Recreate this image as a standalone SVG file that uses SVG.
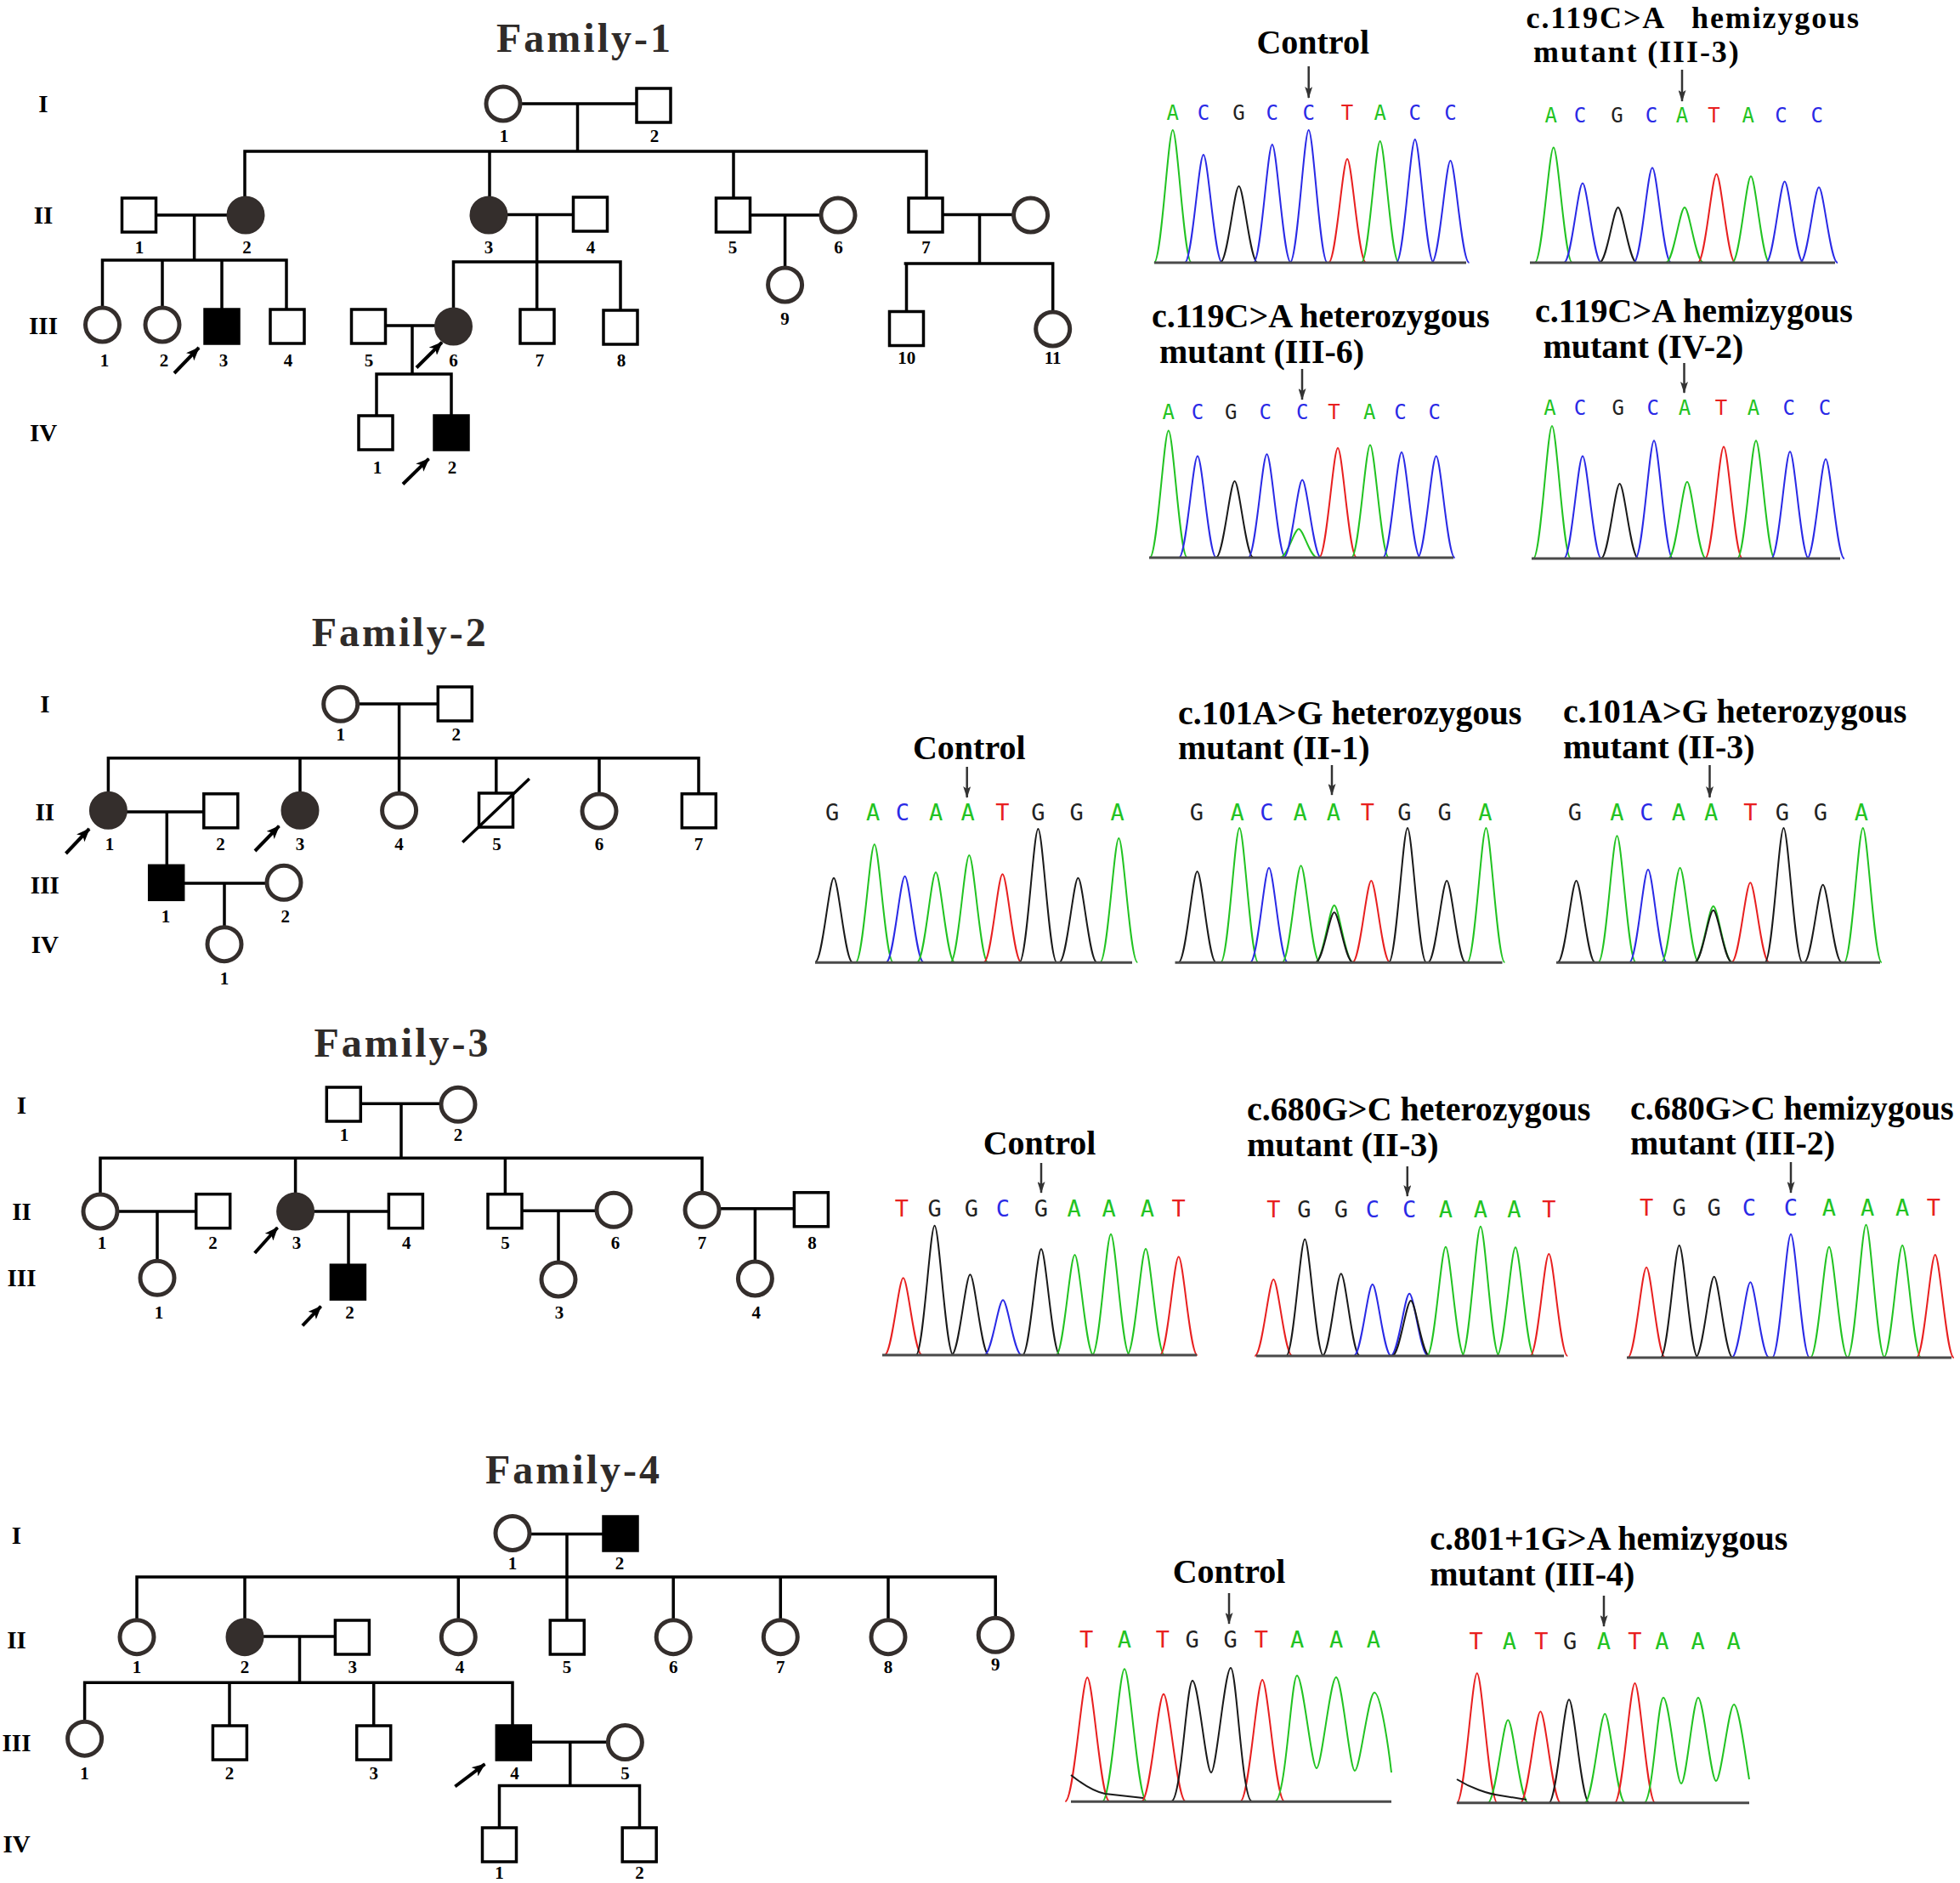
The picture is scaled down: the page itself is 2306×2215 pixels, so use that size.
<svg xmlns="http://www.w3.org/2000/svg" width="2306" height="2215" viewBox="0 0 2306 2215">
<defs>
<style>
.ln{stroke:#000;stroke-width:3.5;fill:none;stroke-linecap:square}
.sq{fill:#fff;stroke:#000;stroke-width:3.5}
.sf{fill:#000;stroke:#000;stroke-width:3.5}
.ci{fill:#fff;stroke:#342e2c;stroke-width:5}
.cf{fill:#342e2c;stroke:#342e2c;stroke-width:2}
text{font-family:"Liberation Serif","Times New Roman",serif;font-weight:bold}
.n{font-size:21px;text-anchor:middle;fill:#000}
.g{font-size:29px;text-anchor:middle;fill:#000}
.t{font-size:48px;text-anchor:middle;fill:#2f2b29;letter-spacing:3px}
.m{font-size:40px;fill:#000}
.ms{font-size:36px;fill:#000;letter-spacing:1.9px}
.mc{font-size:40px;fill:#000;text-anchor:middle}
.b{font-family:"DejaVu Sans Mono","Liberation Mono",monospace;font-weight:normal;font-size:24px;text-anchor:middle}
.b2{font-size:27px}
.A{fill:#22c322}.C{fill:#2a2ae6}.G{fill:#222}.T{fill:#e82020}
.pk{fill:none;stroke-width:2}
.pA{stroke:#22c322}.pC{stroke:#2a2ae6}.pG{stroke:#1a1a1a}.pT{stroke:#e82020}
.bl{stroke:#4a4a4a;stroke-width:3}
.ca{stroke:#333;stroke-width:2.5;marker-end:url(#ah)}
.pa{stroke:#000;stroke-width:4;marker-end:url(#ap)}
</style>
<marker id="ah" viewBox="0 0 14 9" refX="13" refY="4.5" markerWidth="14" markerHeight="9" markerUnits="userSpaceOnUse" orient="auto"><path d="M0 0L14 4.5L0 9L3 4.5z" fill="#333"/></marker>
<marker id="ap" viewBox="0 0 16 13" refX="15" refY="6.5" markerWidth="16" markerHeight="13" markerUnits="userSpaceOnUse" orient="auto"><path d="M0 0L16 6.5L0 13L4 6.5z" fill="#000"/></marker>
<path id="pk" d="M-1 0C-.6 0-.25-1 0-1S.6 0 1 0" fill="none" vector-effect="non-scaling-stroke"/>
</defs>
<rect width="2306" height="2215" fill="#fff"/>

<!-- ================= FAMILY 1 ================= -->
<text class="t" x="688" y="61">Family-1</text>
<text class="g" x="51" y="132">I</text>
<text class="g" x="51" y="263">II</text>
<text class="g" x="51" y="393">III</text>
<text class="g" x="51" y="519">IV</text>
<g id="f1-connectors" class="ln">
<path d="M592 122H769M679.5 122V178M288 178H1090M288 178V253M576 178V253M863 178V253M1090 178V253"/>
<path d="M163.5 253H289M228.6 253V306M120.5 306H337M120.5 306V382M191 306V382M261 306V384M337 306V384"/>
<path d="M575 252.6H694.5M631.7 252.6V384M533.5 308H730M533.5 308V384M730 308V385"/>
<path d="M862.5 253H986M923.6 253V335"/>
<path d="M1089 252.6H1212.6M1152.5 252.6V310M1065.4 310H1238.7M1066.5 310V386.5M1238.7 310V387"/>
<path d="M433.5 383H533.5M485 383V440M443 440H531M443 440V509M531 440V509"/>
</g>
<g id="f1-I-1"><circle class="ci" cx="592" cy="122" r="20"/><text class="n" x="593" y="167">1</text></g>
<g id="f1-I-2"><rect class="sq" x="749" y="104" width="40" height="40"/><text class="n" x="770" y="167">2</text></g>
<g id="f1-II-1"><rect class="sq" x="143.5" y="233" width="40" height="40"/><text class="n" x="164" y="298">1</text></g>
<g id="f1-II-2"><circle class="cf" cx="289" cy="253" r="21.5"/><text class="n" x="290.6" y="298">2</text></g>
<g id="f1-II-3"><circle class="cf" cx="575" cy="253" r="21.5"/><text class="n" x="575" y="298">3</text></g>
<g id="f1-II-4"><rect class="sq" x="674.5" y="232" width="40" height="40"/><text class="n" x="695" y="298">4</text></g>
<g id="f1-II-5"><rect class="sq" x="842.5" y="233" width="40" height="40"/><text class="n" x="862" y="298">5</text></g>
<g id="f1-II-6"><circle class="ci" cx="986" cy="253" r="20"/><text class="n" x="986.6" y="298">6</text></g>
<g id="f1-II-7"><rect class="sq" x="1069" y="233" width="40" height="40"/><text class="n" x="1089.5" y="298">7</text></g>
<g id="f1-II-8"><circle class="ci" cx="1212.6" cy="253" r="20"/></g>
<g id="f1-III-1"><circle class="ci" cx="120.5" cy="382" r="20"/><text class="n" x="123" y="431">1</text></g>
<g id="f1-III-2"><circle class="ci" cx="191" cy="382" r="20"/><text class="n" x="193" y="431">2</text></g>
<g id="f1-III-3"><rect class="sf" x="241" y="364" width="40" height="40"/><text class="n" x="263" y="431">3</text><line class="pa" x1="205" y1="439" x2="234" y2="409"/></g>
<g id="f1-III-4"><rect class="sq" x="318" y="364" width="40" height="40"/><text class="n" x="339" y="431">4</text></g>
<g id="f1-III-5"><rect class="sq" x="413.5" y="364" width="40" height="40"/><text class="n" x="434" y="431">5</text></g>
<g id="f1-III-6"><circle class="cf" cx="533.5" cy="384" r="21.5"/><text class="n" x="533.5" y="431">6</text><line class="pa" x1="490" y1="432.5" x2="520" y2="402.6"/></g>
<g id="f1-III-7"><rect class="sq" x="612" y="364" width="40" height="40"/><text class="n" x="635" y="431">7</text></g>
<g id="f1-III-8"><rect class="sq" x="710" y="365" width="40" height="40"/><text class="n" x="731" y="431">8</text></g>
<g id="f1-III-9"><circle class="ci" cx="923.6" cy="335" r="20"/><text class="n" x="923.6" y="382">9</text></g>
<g id="f1-III-10"><rect class="sq" x="1046.5" y="366.5" width="40" height="40"/><text class="n" x="1066.7" y="428">10</text></g>
<g id="f1-III-11"><circle class="ci" cx="1238.7" cy="387" r="20"/><text class="n" x="1238.7" y="428">11</text></g>
<g id="f1-IV-1"><rect class="sq" x="422" y="489" width="40" height="40"/><text class="n" x="444" y="557">1</text></g>
<g id="f1-IV-2"><rect class="sf" x="511" y="489" width="40" height="40"/><text class="n" x="532" y="557">2</text><line class="pa" x1="474" y1="569.5" x2="504.5" y2="539.6"/></g>

<!-- Family 1 chromatograms -->
<g id="f1-seq-control">
<text class="mc" x="1544.7" y="63">Control</text>
<line class="ca" x1="1539.7" y1="78" x2="1539.7" y2="115"/>
<text class="b" y="141"><tspan class="A" x="1379.8">A</tspan><tspan class="C" x="1415.9">C</tspan><tspan class="G" x="1457.6">G</tspan><tspan class="C" x="1496.8">C</tspan><tspan class="C" x="1539.7">C</tspan><tspan class="T" x="1585.1">T</tspan><tspan class="A" x="1623.7">A</tspan><tspan class="C" x="1664.8">C</tspan><tspan class="C" x="1706.5">C</tspan></text>
<g class="pk">
<use href="#pk" class="pA" transform="translate(1379.8 309) scale(22 156)"/>
<use href="#pk" class="pC" transform="translate(1415.9 309) scale(22 127)"/>
<use href="#pk" class="pG" transform="translate(1457.6 309) scale(22 90)"/>
<use href="#pk" class="pC" transform="translate(1496.8 309) scale(22 139)"/>
<use href="#pk" class="pC" transform="translate(1539.7 309) scale(22 156)"/>
<use href="#pk" class="pT" transform="translate(1585.1 309) scale(22 122)"/>
<use href="#pk" class="pA" transform="translate(1623.7 309) scale(22 143)"/>
<use href="#pk" class="pC" transform="translate(1664.8 309) scale(22 145)"/>
<use href="#pk" class="pC" transform="translate(1706.5 309) scale(22 120)"/>
</g>
<line class="bl" x1="1358" y1="309" x2="1725" y2="309"/>
</g>
<g id="f1-seq-III-3">
<text class="ms" x="1795.5" y="33">c.119C&gt;A<tspan x="1990">hemizygous</tspan></text>
<text class="ms" x="1804" y="73">mutant (III-3)</text>
<line class="ca" x1="1979" y1="82" x2="1979" y2="119"/>
<text class="b" y="143.5"><tspan class="A" x="1824.7">A</tspan><tspan class="C" x="1859">C</tspan><tspan class="G" x="1902.5">G</tspan><tspan class="C" x="1943">C</tspan><tspan class="A" x="1979">A</tspan><tspan class="T" x="2016.4">T</tspan><tspan class="A" x="2056.8">A</tspan><tspan class="C" x="2095.4">C</tspan><tspan class="C" x="2137.7">C</tspan></text>
<g class="pk">
<use href="#pk" class="pA" transform="translate(1827.8 309) scale(22 135.5)"/>
<use href="#pk" class="pC" transform="translate(1862 309) scale(22 93.5)"/>
<use href="#pk" class="pG" transform="translate(1903.7 309) scale(22 65)"/>
<use href="#pk" class="pC" transform="translate(1944 309) scale(22 111.7)"/>
<use href="#pk" class="pA" transform="translate(1982 309) scale(22 65)"/>
<use href="#pk" class="pT" transform="translate(2019.5 309) scale(22 104.3)"/>
<use href="#pk" class="pA" transform="translate(2060 309) scale(22 101.7)"/>
<use href="#pk" class="pC" transform="translate(2099.7 309) scale(22 95.6)"/>
<use href="#pk" class="pC" transform="translate(2140 309) scale(22 88.7)"/>
</g>
<line class="bl" x1="1800" y1="309" x2="2159" y2="309"/>
</g>
<g id="f1-seq-III-6">
<text class="m" x="1355" y="385">c.119C&gt;A heterozygous</text>
<text class="m" x="1364" y="427">mutant (III-6)</text>
<line class="ca" x1="1532" y1="434" x2="1532" y2="470"/>
<text class="b" y="492.5"><tspan class="A" x="1374.8">A</tspan><tspan class="C" x="1409">C</tspan><tspan class="G" x="1448.2">G</tspan><tspan class="C" x="1488.7">C</tspan><tspan class="C" x="1532.2">C</tspan><tspan class="T" x="1569.6">T</tspan><tspan class="A" x="1611.3">A</tspan><tspan class="C" x="1647.4">C</tspan><tspan class="C" x="1687.8">C</tspan></text>
<g class="pk">
<use href="#pk" class="pA" transform="translate(1374.8 656) scale(22 149.5)"/>
<use href="#pk" class="pC" transform="translate(1409 656) scale(22 119.6)"/>
<use href="#pk" class="pG" transform="translate(1452.6 656) scale(22 90)"/>
<use href="#pk" class="pC" transform="translate(1490.5 656) scale(22 121.7)"/>
<use href="#pk" class="pA" transform="translate(1528 656) scale(22 33.7)"/>
<use href="#pk" class="pC" transform="translate(1532.2 656) scale(22 91.4)"/>
<use href="#pk" class="pT" transform="translate(1574 656) scale(22 129)"/>
<use href="#pk" class="pA" transform="translate(1612 656) scale(22 132.6)"/>
<use href="#pk" class="pC" transform="translate(1649 656) scale(22 124)"/>
<use href="#pk" class="pC" transform="translate(1689.7 656) scale(22 119.6)"/>
</g>
<line class="bl" x1="1352" y1="656" x2="1710" y2="656"/>
</g>
<g id="f1-seq-IV-2">
<text class="m" x="1806" y="379.4">c.119C&gt;A hemizygous</text>
<text class="m" x="1815.4" y="420.6">mutant (IV-2)</text>
<line class="ca" x1="1981.5" y1="427" x2="1981.5" y2="462"/>
<text class="b" y="488"><tspan class="A" x="1823.5">A</tspan><tspan class="C" x="1859">C</tspan><tspan class="G" x="1903.7">G</tspan><tspan class="C" x="1944.8">C</tspan><tspan class="A" x="1982">A</tspan><tspan class="T" x="2025">T</tspan><tspan class="A" x="2063">A</tspan><tspan class="C" x="2104.7">C</tspan><tspan class="C" x="2147">C</tspan></text>
<g class="pk">
<use href="#pk" class="pA" transform="translate(1826 657) scale(22 156)"/>
<use href="#pk" class="pC" transform="translate(1862 657) scale(22 120.6)"/>
<use href="#pk" class="pG" transform="translate(1905.6 657) scale(22 88)"/>
<use href="#pk" class="pC" transform="translate(1946 657) scale(22 138.8)"/>
<use href="#pk" class="pA" transform="translate(1985 657) scale(22 90.2)"/>
<use href="#pk" class="pT" transform="translate(2028 657) scale(22 131.4)"/>
<use href="#pk" class="pA" transform="translate(2066 657) scale(22 138.8)"/>
<use href="#pk" class="pC" transform="translate(2106 657) scale(22 125.8)"/>
<use href="#pk" class="pC" transform="translate(2148 657) scale(22 117)"/>
</g>
<line class="bl" x1="1802" y1="657" x2="2165" y2="657"/>
</g>

<!-- ================= FAMILY 2 ================= -->
<text class="t" x="470.7" y="760">Family-2</text>
<text class="g" x="52.8" y="838">I</text>
<text class="g" x="52.8" y="965">II</text>
<text class="g" x="52.8" y="1051">III</text>
<text class="g" x="52.8" y="1121">IV</text>
<g id="f2-connectors" class="ln">
<path d="M400.7 828H535.3M469.6 828V891.7M127.4 891.7H822M127.4 891.7V953M353 891.7V953M469.6 891.7V953M583.8 891.7V953M705 891.7V954M822 891.7V953.8"/>
<path d="M127.4 955H259.8M196.3 955V1038M195.7 1039H334M264 1039V1110.7"/>
</g>
<g id="f2-I-1"><circle class="ci" cx="400.7" cy="828.3" r="20"/><text class="n" x="400.7" y="871">1</text></g>
<g id="f2-I-2"><rect class="sq" x="515.3" y="808" width="40" height="40"/><text class="n" x="536.7" y="871">2</text></g>
<g id="f2-II-1"><circle class="cf" cx="127.4" cy="953.3" r="21.5"/><text class="n" x="129" y="1000">1</text><line class="pa" x1="77.5" y1="1004" x2="105" y2="975"/></g>
<g id="f2-II-2"><rect class="sq" x="239.8" y="933.8" width="40" height="40"/><text class="n" x="259.5" y="1000">2</text></g>
<g id="f2-II-3"><circle class="cf" cx="353" cy="953.3" r="21.5"/><text class="n" x="353" y="1000">3</text><line class="pa" x1="300" y1="1001" x2="328.4" y2="971.7"/></g>
<g id="f2-II-4"><circle class="ci" cx="469.6" cy="953.3" r="20"/><text class="n" x="469.6" y="1000">4</text></g>
<g id="f2-II-5"><rect class="sq" x="563.5" y="933" width="40" height="40"/><line x1="544.2" y1="990.7" x2="622.8" y2="916" stroke="#000" stroke-width="3.5"/><text class="n" x="584.4" y="1000">5</text></g>
<g id="f2-II-6"><circle class="ci" cx="705" cy="954" r="20"/><text class="n" x="705" y="1000">6</text></g>
<g id="f2-II-7"><rect class="sq" x="802.3" y="933.8" width="40" height="40"/><text class="n" x="822" y="1000">7</text></g>
<g id="f2-III-1"><rect class="sf" x="175.7" y="1018.3" width="40" height="40"/><text class="n" x="195" y="1085">1</text></g>
<g id="f2-III-2"><circle class="ci" cx="334" cy="1038.3" r="20"/><text class="n" x="335.8" y="1085">2</text></g>
<g id="f2-IV-1"><circle class="ci" cx="264" cy="1110.7" r="20"/><text class="n" x="264" y="1158">1</text></g>

<g id="f2-seq-control">
<text class="mc" x="1140.3" y="893">Control</text>
<line class="ca" x1="1137.7" y1="902" x2="1137.7" y2="938"/>
<text class="b b2" y="965"><tspan class="G" x="979.2">G</tspan><tspan class="A" x="1027.1">A</tspan><tspan class="C" x="1062">C</tspan><tspan class="A" x="1101.2">A</tspan><tspan class="A" x="1138.6">A</tspan><tspan class="T" x="1179.5">T</tspan><tspan class="G" x="1221.4">G</tspan><tspan class="G" x="1266.7">G</tspan><tspan class="A" x="1314.6">A</tspan></text>
<g class="pk">
<use href="#pk" class="pG" transform="translate(981 1132) scale(22 99.3)"/>
<use href="#pk" class="pA" transform="translate(1028.8 1132) scale(22 138.7)"/>
<use href="#pk" class="pC" transform="translate(1064.6 1132) scale(22 101.3)"/>
<use href="#pk" class="pA" transform="translate(1101 1132) scale(22 106)"/>
<use href="#pk" class="pA" transform="translate(1140.3 1132) scale(22 126)"/>
<use href="#pk" class="pT" transform="translate(1179.5 1132) scale(22 103.7)"/>
<use href="#pk" class="pG" transform="translate(1221.4 1132) scale(22 157)"/>
<use href="#pk" class="pG" transform="translate(1268.4 1132) scale(22 99.3)"/>
<use href="#pk" class="pA" transform="translate(1316.3 1132) scale(22 146)"/>
</g>
<line class="bl" x1="959" y1="1132.3" x2="1332" y2="1132.3"/>
</g>
<g id="f2-seq-II-1">
<text class="m" x="1386" y="851.7">c.101A&gt;G heterozygous</text>
<text class="m" x="1386" y="893.3">mutant (II-1)</text>
<line class="ca" x1="1567" y1="900" x2="1567" y2="935"/>
<text class="b b2" y="965"><tspan class="G" x="1407.8">G</tspan><tspan class="A" x="1455.7">A</tspan><tspan class="C" x="1490.5">C</tspan><tspan class="A" x="1529.7">A</tspan><tspan class="A" x="1568.9">A</tspan><tspan class="T" x="1609">T</tspan><tspan class="G" x="1652.5">G</tspan><tspan class="G" x="1699.6">G</tspan><tspan class="A" x="1747.5">A</tspan></text>
<g class="pk">
<use href="#pk" class="pG" transform="translate(1408.6 1132) scale(22 107)"/>
<use href="#pk" class="pA" transform="translate(1458.3 1132) scale(22 158)"/>
<use href="#pk" class="pC" transform="translate(1493 1132) scale(22 111.3)"/>
<use href="#pk" class="pA" transform="translate(1530.6 1132) scale(22 113.7)"/>
<use href="#pk" class="pA" transform="translate(1569.8 1132) scale(22 67)"/>
<use href="#pk" class="pG" transform="translate(1569.8 1132) scale(22 58.7)"/>
<use href="#pk" class="pT" transform="translate(1613.3 1132) scale(22 96)"/>
<use href="#pk" class="pG" transform="translate(1656 1132) scale(22 158)"/>
<use href="#pk" class="pG" transform="translate(1702.2 1132) scale(22 96)"/>
<use href="#pk" class="pA" transform="translate(1748.4 1132) scale(22 158)"/>
</g>
<line class="bl" x1="1382.5" y1="1132.3" x2="1767.5" y2="1132.3"/>
</g>
<g id="f2-seq-II-3">
<text class="m" x="1839" y="850">c.101A&gt;G heterozygous</text>
<text class="m" x="1839" y="891.7">mutant (II-3)</text>
<line class="ca" x1="2011.5" y1="900" x2="2011.5" y2="938"/>
<text class="b b2" y="965"><tspan class="G" x="1852.9">G</tspan><tspan class="A" x="1902.5">A</tspan><tspan class="C" x="1937.4">C</tspan><tspan class="A" x="1974.9">A</tspan><tspan class="A" x="2013.2">A</tspan><tspan class="T" x="2059.3">T</tspan><tspan class="G" x="2096.8">G</tspan><tspan class="G" x="2142">G</tspan><tspan class="A" x="2190">A</tspan></text>
<g class="pk">
<use href="#pk" class="pG" transform="translate(1854.6 1132) scale(22 96)"/>
<use href="#pk" class="pA" transform="translate(1902.5 1132) scale(22 148.7)"/>
<use href="#pk" class="pC" transform="translate(1939 1132) scale(22 109.3)"/>
<use href="#pk" class="pA" transform="translate(1976.6 1132) scale(22 111.3)"/>
<use href="#pk" class="pA" transform="translate(2015.8 1132) scale(22 66)"/>
<use href="#pk" class="pG" transform="translate(2015.8 1132) scale(22 61.3)"/>
<use href="#pk" class="pT" transform="translate(2059.3 1132) scale(22 93.7)"/>
<use href="#pk" class="pG" transform="translate(2098.5 1132) scale(22 158)"/>
<use href="#pk" class="pG" transform="translate(2144.7 1132) scale(22 91.3)"/>
<use href="#pk" class="pA" transform="translate(2191.8 1132) scale(22 158)"/>
</g>
<line class="bl" x1="1831" y1="1132.3" x2="2212" y2="1132.3"/>
</g>

<!-- ================= FAMILY 3 ================= -->
<text class="t" x="473.5" y="1243">Family-3</text>
<text class="g" x="25.5" y="1310">I</text>
<text class="g" x="25.5" y="1435">II</text>
<text class="g" x="25.5" y="1513">III</text>
<g id="f3-connectors" class="ln">
<path d="M404.3 1298.3H539M472 1298.3V1362.3M118 1362.3H826M118 1362.3V1425M347.6 1362.3V1425M594.4 1362.3V1424.7M826 1362.3V1423.3"/>
<path d="M118 1425H250.7M185 1425V1503.3M347.6 1425H477.4M410 1425V1508M594 1424.3H722M657 1424.3V1505M826 1421.7H954.4M888.4 1421.7V1504"/>
</g>
<g id="f3-I-1"><rect class="sq" x="384.3" y="1279" width="40" height="40"/><text class="n" x="405" y="1342">1</text></g>
<g id="f3-I-2"><circle class="ci" cx="539" cy="1299.3" r="20"/><text class="n" x="539" y="1342">2</text></g>
<g id="f3-II-1"><circle class="ci" cx="118" cy="1425" r="20"/><text class="n" x="120" y="1469">1</text></g>
<g id="f3-II-2"><rect class="sq" x="230.7" y="1404.7" width="40" height="40"/><text class="n" x="250.6" y="1469">2</text></g>
<g id="f3-II-3"><circle class="cf" cx="347.6" cy="1425" r="21.5"/><text class="n" x="348.9" y="1469">3</text><line class="pa" x1="299.7" y1="1474" x2="326.5" y2="1444"/></g>
<g id="f3-II-4"><rect class="sq" x="457.4" y="1404.7" width="40" height="40"/><text class="n" x="478.3" y="1469">4</text></g>
<g id="f3-II-5"><rect class="sq" x="574" y="1404.7" width="40" height="40"/><text class="n" x="594.4" y="1469">5</text></g>
<g id="f3-II-6"><circle class="ci" cx="722" cy="1423.3" r="20"/><text class="n" x="723.9" y="1469">6</text></g>
<g id="f3-II-7"><circle class="ci" cx="826" cy="1423.3" r="20"/><text class="n" x="826" y="1469">7</text></g>
<g id="f3-II-8"><rect class="sq" x="934.4" y="1402.8" width="40" height="40"/><text class="n" x="955.4" y="1469">8</text></g>
<g id="f3-III-1"><circle class="ci" cx="185" cy="1503.3" r="20"/><text class="n" x="187" y="1551">1</text></g>
<g id="f3-III-2"><rect class="sf" x="389.4" y="1488.2" width="40" height="40"/><text class="n" x="411.4" y="1551">2</text><line class="pa" x1="355.9" y1="1559.3" x2="377.6" y2="1536.7"/></g>
<g id="f3-III-3"><circle class="ci" cx="657" cy="1505" r="20"/><text class="n" x="658" y="1551">3</text></g>
<g id="f3-III-4"><circle class="ci" cx="888.4" cy="1504" r="20"/><text class="n" x="889.7" y="1551">4</text></g>

<g id="f3-seq-control">
<text class="mc" x="1223" y="1358.3">Control</text>
<line class="ca" x1="1225" y1="1368" x2="1225" y2="1403"/>
<text class="b b2" y="1431"><tspan class="T" x="1061">T</tspan><tspan class="G" x="1099.6">G</tspan><tspan class="G" x="1143">G</tspan><tspan class="C" x="1180">C</tspan><tspan class="G" x="1225">G</tspan><tspan class="A" x="1263.6">A</tspan><tspan class="A" x="1304.7">A</tspan><tspan class="A" x="1349.8">A</tspan><tspan class="T" x="1386.7">T</tspan></text>
<g class="pk">
<use href="#pk" class="pT" transform="translate(1062.7 1594) scale(22 90.7)"/>
<use href="#pk" class="pG" transform="translate(1099.6 1594) scale(22 152.3)"/>
<use href="#pk" class="pG" transform="translate(1141.4 1594) scale(22 94.7)"/>
<use href="#pk" class="pC" transform="translate(1180 1594) scale(22 64.7)"/>
<use href="#pk" class="pG" transform="translate(1225 1594) scale(22 124.7)"/>
<use href="#pk" class="pA" transform="translate(1264.5 1594) scale(22 118)"/>
<use href="#pk" class="pA" transform="translate(1307 1594) scale(22 142.3)"/>
<use href="#pk" class="pA" transform="translate(1348 1594) scale(22 125)"/>
<use href="#pk" class="pT" transform="translate(1386.7 1594) scale(22 115.7)"/>
</g>
<line class="bl" x1="1038" y1="1594" x2="1408" y2="1594"/>
</g>
<g id="f3-seq-II-3">
<text class="m" x="1467" y="1318.3">c.680G&gt;C heterozygous</text>
<text class="m" x="1467" y="1360">mutant (II-3)</text>
<line class="ca" x1="1655.8" y1="1372" x2="1655.8" y2="1407"/>
<text class="b b2" y="1432"><tspan class="T" x="1498.3">T</tspan><tspan class="G" x="1534.4">G</tspan><tspan class="G" x="1577.8">G</tspan><tspan class="C" x="1614.8">C</tspan><tspan class="C" x="1658.2">C</tspan><tspan class="A" x="1700.9">A</tspan><tspan class="A" x="1741.9">A</tspan><tspan class="A" x="1781.3">A</tspan><tspan class="T" x="1822.3">T</tspan></text>
<g class="pk">
<use href="#pk" class="pT" transform="translate(1498.3 1595) scale(22 90)"/>
<use href="#pk" class="pG" transform="translate(1535.2 1595) scale(22 137.3)"/>
<use href="#pk" class="pG" transform="translate(1577.8 1595) scale(22 96.7)"/>
<use href="#pk" class="pC" transform="translate(1614.8 1595) scale(22 84.3)"/>
<use href="#pk" class="pC" transform="translate(1658.2 1595) scale(22 73.3)"/>
<use href="#pk" class="pG" transform="translate(1659.9 1595) scale(22 65)"/>
<use href="#pk" class="pA" transform="translate(1700.9 1595) scale(22 128.3)"/>
<use href="#pk" class="pA" transform="translate(1741.9 1595) scale(22 152.3)"/>
<use href="#pk" class="pA" transform="translate(1783 1595) scale(22 127.7)"/>
<use href="#pk" class="pT" transform="translate(1822.3 1595) scale(22 120)"/>
</g>
<line class="bl" x1="1478" y1="1595" x2="1840" y2="1595"/>
</g>
<g id="f3-seq-III-2">
<text class="m" x="1918" y="1316.7">c.680G&gt;C hemizygous</text>
<text class="m" x="1918" y="1358.3">mutant (III-2)</text>
<line class="ca" x1="2107" y1="1367" x2="2107" y2="1403"/>
<text class="b b2" y="1430"><tspan class="T" x="1937.1">T</tspan><tspan class="G" x="1975.7">G</tspan><tspan class="G" x="2016.7">G</tspan><tspan class="C" x="2057.8">C</tspan><tspan class="C" x="2107">C</tspan><tspan class="A" x="2152">A</tspan><tspan class="A" x="2197.2">A</tspan><tspan class="A" x="2238.2">A</tspan><tspan class="T" x="2275">T</tspan></text>
<g class="pk">
<use href="#pk" class="pT" transform="translate(1937.1 1597) scale(22 106.3)"/>
<use href="#pk" class="pG" transform="translate(1975.7 1597) scale(22 132)"/>
<use href="#pk" class="pG" transform="translate(2016.7 1597) scale(22 95.3)"/>
<use href="#pk" class="pC" transform="translate(2059.4 1597) scale(22 88.7)"/>
<use href="#pk" class="pC" transform="translate(2107 1597) scale(22 145.3)"/>
<use href="#pk" class="pA" transform="translate(2152 1597) scale(22 130.3)"/>
<use href="#pk" class="pA" transform="translate(2195.5 1597) scale(22 156.3)"/>
<use href="#pk" class="pA" transform="translate(2238.2 1597) scale(22 132)"/>
<use href="#pk" class="pT" transform="translate(2276.8 1597) scale(22 121)"/>
</g>
<line class="bl" x1="1914" y1="1597" x2="2296" y2="1597"/>
</g>

<!-- ================= FAMILY 4 ================= -->
<text class="t" x="675" y="1745">Family-4</text>
<text class="g" x="19.5" y="1816">I</text>
<text class="g" x="19.5" y="1939">II</text>
<text class="g" x="19.5" y="2060">III</text>
<text class="g" x="19.5" y="2179">IV</text>
<g id="f4-connectors" class="ln">
<path d="M603 1804.6H730M667 1804.6V1855M161 1855H1171.2M161 1855V1925M288 1855V1925M539.3 1855V1925M667 1855V1925M792.2 1855V1925M918.3 1855V1925M1045 1855V1925M1171.2 1855V1923"/>
<path d="M288 1925H414.4M352.5 1925V1979.3M99.6 1979.3H603M99.6 1979.3V2045M270 1979.3V2050M439.7 1979.3V2050M603 1979.3V2050"/>
<path d="M604.3 2049.3H735.4M670.8 2049.3V2100.5M587.5 2100.5H752.5M587.5 2100.5V2170M752.5 2100.5V2170"/>
</g>
<g id="f4-I-1"><circle class="ci" cx="603" cy="1803.5" r="20"/><text class="n" x="603" y="1846">1</text></g>
<g id="f4-I-2"><rect class="sf" x="710" y="1784" width="40" height="40"/><text class="n" x="729" y="1846">2</text></g>
<g id="f4-II-1"><circle class="ci" cx="161" cy="1925.7" r="20"/><text class="n" x="161" y="1968">1</text></g>
<g id="f4-II-2"><circle class="cf" cx="288" cy="1925.7" r="21.5"/><text class="n" x="288" y="1968">2</text></g>
<g id="f4-II-3"><rect class="sq" x="394.4" y="1906" width="40" height="40"/><text class="n" x="414.8" y="1968">3</text></g>
<g id="f4-II-4"><circle class="ci" cx="539.3" cy="1925.7" r="20"/><text class="n" x="540.9" y="1968">4</text></g>
<g id="f4-II-5"><rect class="sq" x="647.3" y="1906" width="40" height="40"/><text class="n" x="667" y="1968">5</text></g>
<g id="f4-II-6"><circle class="ci" cx="792.2" cy="1925.7" r="20"/><text class="n" x="792.2" y="1968">6</text></g>
<g id="f4-II-7"><circle class="ci" cx="918.3" cy="1925.7" r="20"/><text class="n" x="918.3" y="1968">7</text></g>
<g id="f4-II-8"><circle class="ci" cx="1045" cy="1925.7" r="20"/><text class="n" x="1045" y="1968">8</text></g>
<g id="f4-II-9"><circle class="ci" cx="1171.2" cy="1923.3" r="20"/><text class="n" x="1171.2" y="1965">9</text></g>
<g id="f4-III-1"><circle class="ci" cx="99.6" cy="2045.2" r="20"/><text class="n" x="99.6" y="2093">1</text></g>
<g id="f4-III-2"><rect class="sq" x="250.4" y="2030" width="40" height="40"/><text class="n" x="270" y="2093">2</text></g>
<g id="f4-III-3"><rect class="sq" x="419.7" y="2030" width="40" height="40"/><text class="n" x="439.7" y="2093">3</text></g>
<g id="f4-III-4"><rect class="sf" x="584.3" y="2030" width="40" height="40"/><text class="n" x="605.4" y="2093">4</text><line class="pa" x1="535.4" y1="2101.5" x2="570.4" y2="2075.2"/></g>
<g id="f4-III-5"><circle class="ci" cx="735.4" cy="2049.6" r="20"/><text class="n" x="735.4" y="2093">5</text></g>
<g id="f4-IV-1"><rect class="sq" x="567.5" y="2150" width="40" height="40"/><text class="n" x="587.5" y="2210">1</text></g>
<g id="f4-IV-2"><rect class="sq" x="732.2" y="2150" width="40" height="40"/><text class="n" x="752.5" y="2210">2</text></g>

<g id="f4-seq-control">
<text class="mc" x="1446" y="1861.7">Control</text>
<line class="ca" x1="1446" y1="1874" x2="1446" y2="1910"/>
<text class="b b2" y="1938"><tspan class="T" x="1278.2">T</tspan><tspan class="A" x="1323">A</tspan><tspan class="T" x="1368">T</tspan><tspan class="G" x="1402.7">G</tspan><tspan class="G" x="1447.6">G</tspan><tspan class="T" x="1484">T</tspan><tspan class="A" x="1526.2">A</tspan><tspan class="A" x="1572.2">A</tspan><tspan class="A" x="1616">A</tspan></text>
<g class="pk">
<use href="#pk" class="pT" transform="translate(1279.3 2119) scale(26 145.7)"/>
<use href="#pk" class="pA" transform="translate(1323 2119) scale(26 155.7)"/>
<use href="#pk" class="pT" transform="translate(1369 2119) scale(26 126.3)"/>
<use href="#pk" class="pT" transform="translate(1485.2 2119) scale(26 143)"/>
<path class="pG" d="M1378 2119C1390 2119 1396 1977 1403 1977C1410 1977 1419 2085 1425 2085C1431 2085 1441 1962 1448 1962C1455 1962 1461 2119 1473 2119"/>
<path class="pA" d="M1500 2119C1513 2119 1519 1971 1526 1971C1533 1971 1543 2080 1549 2080C1555 2080 1565 1973 1572 1973C1579 1973 1588 2083 1594 2083C1600 2083 1610 1991 1617 1991C1624 1991 1633 2050 1637 2085"/>
<path class="pG" d="M1260 2088C1275 2100 1290 2108 1300 2110L1345 2115"/>
</g>
<line class="bl" x1="1260" y1="2119.3" x2="1637" y2="2119.3"/>
</g>
<g id="f4-seq-III-4">
<text class="m" x="1682.2" y="1823">c.801+1G&gt;A hemizygous</text>
<text class="m" x="1682.2" y="1865">mutant (III-4)</text>
<line class="ca" x1="1887" y1="1877" x2="1887" y2="1913"/>
<text class="b b2" y="1940"><tspan class="T" x="1736.6">T</tspan><tspan class="A" x="1775.9">A</tspan><tspan class="T" x="1813.5">T</tspan><tspan class="G" x="1847.2">G</tspan><tspan class="A" x="1887">A</tspan><tspan class="T" x="1923.5">T</tspan><tspan class="A" x="1955.5">A</tspan><tspan class="A" x="1997.6">A</tspan><tspan class="A" x="2039.7">A</tspan></text>
<g class="pk">
<use href="#pk" class="pT" transform="translate(1737.8 2121) scale(24 152.7)"/>
<use href="#pk" class="pA" transform="translate(1774.2 2121) scale(24 97.7)"/>
<use href="#pk" class="pT" transform="translate(1812.4 2121) scale(24 107.7)"/>
<use href="#pk" class="pG" transform="translate(1846 2121) scale(24 121.7)"/>
<use href="#pk" class="pA" transform="translate(1888.2 2121) scale(24 105)"/>
<use href="#pk" class="pT" transform="translate(1923.5 2121) scale(24 141)"/>
<path class="pA" d="M1934 2121C1945 2121 1950 1997 1957 1997C1964 1997 1972 2098 1978 2098C1984 2098 1992 1997 1998 1997C2004 1997 2013 2095 2019 2095C2025 2095 2034 2005 2040 2005C2046 2005 2054 2070 2058 2093"/>
<path class="pG" d="M1714 2093C1730 2103 1750 2110 1765 2112L1796 2117"/>
</g>
<line class="bl" x1="1714" y1="2120.7" x2="2058" y2="2120.7"/>
</g>
</svg>
